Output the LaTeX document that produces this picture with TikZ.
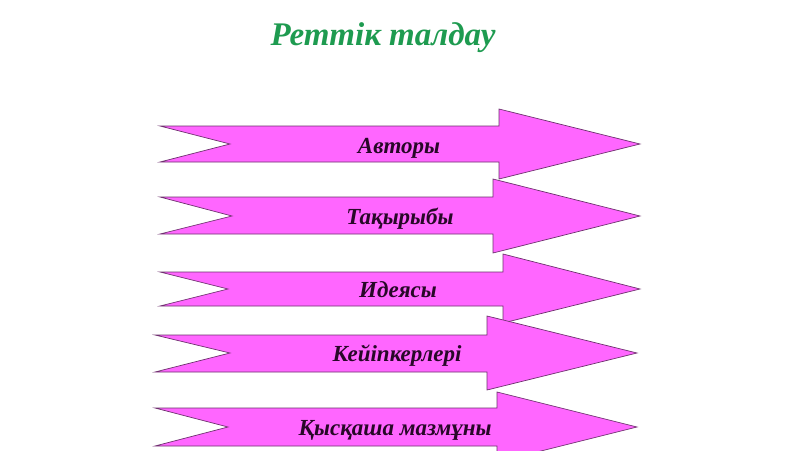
\documentclass[tikz,border=0pt]{standalone}
\usepackage{xcolor}
\usepackage{fontspec}
\setmainfont{Liberation Serif}
\definecolor{bandpink}{RGB}{255,102,255}
\definecolor{bandline}{RGB}{110,50,110}
\definecolor{labeltext}{RGB}{40,8,40}
\definecolor{headgreen}{RGB}{30,155,80}

\begin{document}
\begin{tikzpicture}[x=1pt, y=-1pt,
    band/.style={draw=bandline, fill=bandpink, line width=0.7pt, line join=miter},
    bandtext/.style={anchor=base, text=labeltext, font=\bfseries\itshape\fontsize{23}{27}\selectfont},
    heading/.style={anchor=base, text=headgreen, font=\bfseries\itshape\fontsize{33}{38}\selectfont}]
    \clip (0,0) rectangle (800,450);
    \fill[white] (0,0) rectangle (800,450);
    \node[heading] (title) at (383,45) {Реттік талдау};
    % arrows, top to bottom
    \draw[band] (160,126) -- (499,126) -- (499,109) -- (640,144) -- (499,179) -- (499,162) -- (160,162) -- (230,144) -- cycle;
    \node[bandtext] (avtory) at (399,153) {Авторы};
    \draw[band] (160,197) -- (493,197) -- (493,179) -- (640,216) -- (493,253) -- (493,234) -- (160,234) -- (232,216) -- cycle;
    \node[bandtext] (taqyryby) at (400,224) {Тақырыбы};
    \draw[band] (160,272) -- (503,272) -- (503,254) -- (640,289) -- (503,323) -- (503,306) -- (160,306) -- (228,289) -- cycle;
    \node[bandtext] (ideyasy) at (398,297) {Идеясы};
    \draw[band] (155,335) -- (487,335) -- (487,316) -- (637,353) -- (487,390) -- (487,372) -- (155,372) -- (230,353) -- cycle;
    \node[bandtext] (keyipkerleri) at (397,361) {Кейіпкерлері};
    \draw[band] (155,408) -- (497,408) -- (497,392) -- (637,427) -- (497,462) -- (497,446) -- (155,446) -- (228,427) -- cycle;
    \node[bandtext] (mazmuny) at (395,435) {Қысқаша мазмұны};
\end{tikzpicture}
\end{document}
